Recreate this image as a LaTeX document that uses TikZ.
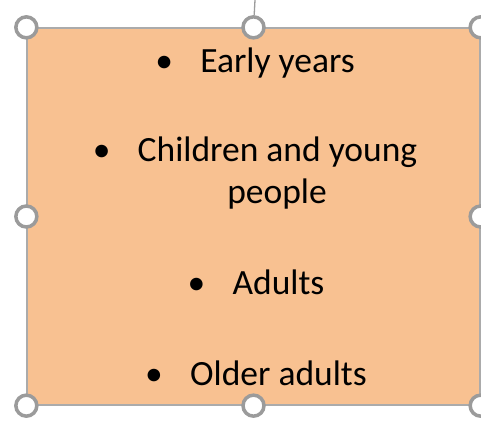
\documentclass[tikz,border=0pt]{standalone}
\usepackage{fontspec}
\setmainfont{Carlito}
\usepackage{xcolor}
\usetikzlibrary{positioning}
\definecolor{boxfill}{HTML}{F8C191}
\definecolor{handlegray}{HTML}{9B9B9B}
\definecolor{edgegray}{HTML}{ABABAB}
\newcommand{\itembullet}{\makebox[45pt][l]{\textbullet}}

\begin{document}
\begin{tikzpicture}[
    x=1pt, y=-1pt,
    panel/.style={rectangle, draw=edgegray, line width=1.3pt, fill=boxfill, minimum width=453pt, minimum height=377pt, inner sep=0pt},
    handle/.style={circle, draw=handlegray, line width=3.5pt, fill=white, minimum size=21pt, inner sep=0pt},
    entry/.style={anchor=base, inner sep=0pt, font=\fontsize{35.5}{42}\selectfont},
    grip/.style={draw=handlegray, line width=1.3pt}
]
    \useasboundingbox (0,0) rectangle (481,420);
    \node[panel] (box) at (253.5,216.5) {};

    \node[entry] (early) at (255,72) {\itembullet Early years};
    \node[entry] (children) at (255,161) {\itembullet Children and young};
    \node[entry] (people) at (277,203) {people};
    \node[entry] (adults) at (256,294) {\itembullet Adults};
    \node[entry] (older) at (256,385) {\itembullet Older adults};

    \coordinate (rot) at (255,0);
    \node[handle] (hnw) at (box.north west) {};
    \node[handle] (hn) at (box.north) {};
    \node[handle] (hne) at (box.north east) {};
    \node[handle] (hw) at (box.west) {};
    \node[handle] (he) at (box.east) {};
    \node[handle] (hsw) at (box.south west) {};
    \node[handle] (hs) at (box.south) {};
    \node[handle] (hse) at (box.south east) {};
    \draw[grip] (rot) -- (hn);
\end{tikzpicture}
\end{document}
